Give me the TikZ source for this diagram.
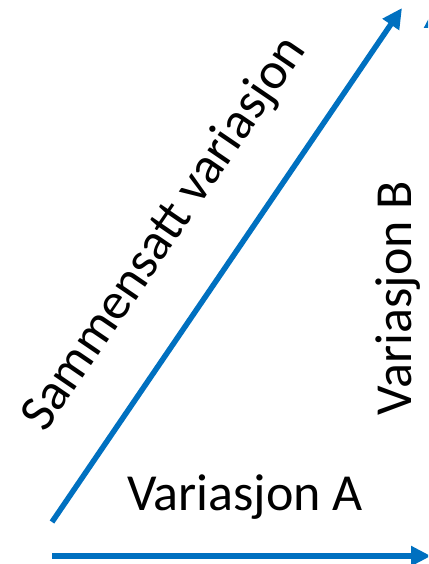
\documentclass[tikz,border=0pt]{standalone}
\usepackage{fontspec}
\setmainfont{Carlito}
\usetikzlibrary{arrows.meta}
\definecolor{arrowblue}{HTML}{0070C0}
\begin{document}
\begin{tikzpicture}[x=1pt,y=1pt,
  vec/.style={draw=arrowblue,line width=5.5pt,-{Triangle[length=20pt,width=19pt]}},
  lab/.style={font=\fontsize{52}{62}\selectfont,inner sep=0pt}]
\useasboundingbox (0,0) rectangle (428,564);
\clip (0,0) rectangle (428,564);
\coordinate (o) at (52,42);
\coordinate (d) at (402,556);
\coordinate (h) at (431,8);
\coordinate (hs) at (52,8);
\coordinate (vs) at (434,42);
\coordinate (vt) at (434,556);
\draw[vec] (o) -- (d);
\draw[vec] (hs) -- (h);
\draw[vec] (vs) -- (vt);
\node[lab,rotate=55.7] (s) at (165,330) {Sammensatt variasjon};
\node[lab,rotate=90] (b) at (398,266) {Variasjon B};
\node[lab] (a) at (245,67) {Variasjon A};
\end{tikzpicture}
\end{document}
